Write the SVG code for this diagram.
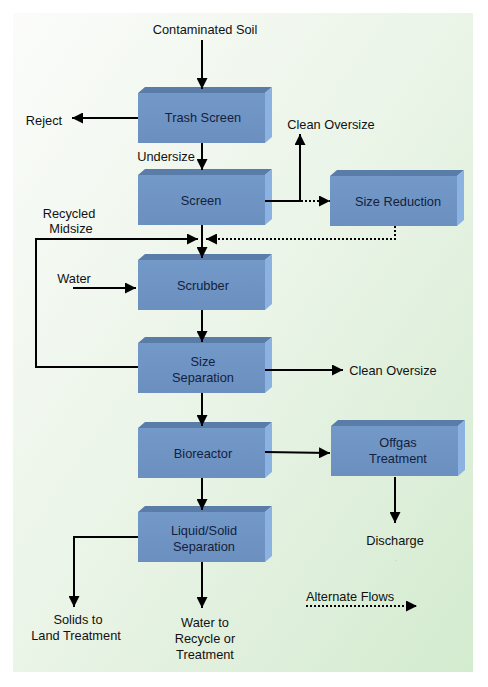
<svg xmlns="http://www.w3.org/2000/svg" xmlns:xlink="http://www.w3.org/1999/xlink" width="488" height="687" viewBox="0 0 488 687">
<defs>
<linearGradient id="bg" x1="0" y1="0" x2="1" y2="1">
<stop offset="0" stop-color="#fbfcfa"/>
<stop offset="0.5" stop-color="#eaf4e7"/>
<stop offset="1" stop-color="#d3ebcf"/>
</linearGradient>
<linearGradient id="front" x1="0" y1="0" x2="0" y2="1">
<stop offset="0" stop-color="#7399c8"/>
<stop offset="1" stop-color="#6b90bf"/>
</linearGradient>
<g id="box">
<rect x="0" y="0" width="127" height="50" fill="url(#front)"/>
<polygon points="0,0 7,-6 134,-6 127,0" fill="#5a7ca9"/>
<polygon points="127,0 134,-6 134,44 127,50" fill="#8cb2e2"/>
</g>
<marker id="ah" viewBox="0 0 10 10" refX="10" refY="5" markerWidth="11" markerHeight="11" orient="auto" markerUnits="userSpaceOnUse">
<path d="M0,0 L10,5 L0,10 z" fill="#000"/>
</marker>
</defs>
<style>
text{font-family:"Liberation Sans",Arial,sans-serif;font-size:12.8px;text-anchor:middle}
.in{fill:#14213d}
.out{fill:#111}
.c{fill:none;stroke:#000;stroke-width:2}
.d{fill:none;stroke:#000;stroke-width:2;stroke-dasharray:2 2}
</style>
<rect x="0" y="0" width="488" height="687" fill="#fff"/>
<rect x="13" y="13" width="460" height="659" fill="url(#bg)"/>

<g id="n-trash"><use xlink:href="#box" x="138" y="93"/><text class="in" x="203" y="122">Trash Screen</text></g>
<g id="n-screen"><use xlink:href="#box" x="138" y="175"/><text class="in" x="201" y="205">Screen</text></g>
<g id="n-sizered"><use xlink:href="#box" x="330" y="176"/><text class="in" x="398" y="206">Size Reduction</text></g>
<g id="n-scrubber"><use xlink:href="#box" x="138" y="260"/><text class="in" x="203" y="290">Scrubber</text></g>
<g id="n-sizesep"><use xlink:href="#box" x="138" y="343"/><text class="in" x="203" y="366">Size</text><text class="in" x="203" y="382">Separation</text></g>
<g id="n-bio"><use xlink:href="#box" x="138" y="428"/><text class="in" x="203" y="458">Bioreactor</text></g>
<g id="n-offgas"><use xlink:href="#box" x="331" y="426"/><text class="in" x="398" y="447">Offgas</text><text class="in" x="398" y="463">Treatment</text></g>
<g id="n-ls"><use xlink:href="#box" x="138" y="512"/><text class="in" x="204" y="535">Liquid/Solid</text><text class="in" x="204" y="551">Separation</text></g>

<g id="labels">
<text class="out" x="205" y="34">Contaminated Soil</text>
<text class="out" x="44" y="125">Reject</text>
<text class="out" x="331" y="129">Clean Oversize</text>
<text class="out" x="166" y="161">Undersize</text>
<text class="out" x="69" y="218">Recycled</text>
<text class="out" x="71" y="233">Midsize</text>
<text class="out" x="74" y="283">Water</text>
<text class="out" x="393" y="375">Clean Oversize</text>
<text class="out" x="395" y="545">Discharge</text>
<text class="out" x="396" y="561" style="font-size:6px;fill:#999">.</text>
<text class="out" x="350" y="601">Alternate Flows</text>
<text class="out" x="78" y="624">Solids to</text>
<text class="out" x="76" y="640">Land Treatment</text>
<text class="out" x="205" y="627">Water to</text>
<text class="out" x="205" y="643">Recycle or</text>
<text class="out" x="205" y="659">Treatment</text>
</g>

<g id="connectors">
<path class="c" d="M202,40 V89" marker-end="url(#ah)"/>
<path class="c" d="M138,118 H72" marker-end="url(#ah)"/>
<path class="c" d="M202,143 V170" marker-end="url(#ah)"/>
<path class="c" d="M265,201 H300 V134" marker-end="url(#ah)"/>
<path class="d" d="M301,201 H330" marker-end="url(#ah)"/>
<path class="d" d="M395,226 V239 H206" marker-end="url(#ah)"/>
<path class="c" d="M138,367 H36 V239 H198" marker-end="url(#ah)"/>
<path class="c" d="M202,225 V258" marker-end="url(#ah)"/>
<path class="c" d="M73,288 H136" marker-end="url(#ah)"/>
<path class="c" d="M202,310 V342" marker-end="url(#ah)"/>
<path class="c" d="M265,370 H343" marker-end="url(#ah)"/>
<path class="c" d="M202,393 V426" marker-end="url(#ah)"/>
<path class="c" d="M265,452 L330,453" marker-end="url(#ah)"/>
<path class="c" d="M202,478 V510" marker-end="url(#ah)"/>
<path class="c" d="M395,477 V523" marker-end="url(#ah)"/>
<path class="c" d="M138,537 H74 V607" marker-end="url(#ah)"/>
<path class="c" d="M202,562 V608" marker-end="url(#ah)"/>
<path class="d" d="M306,606 H417" marker-end="url(#ah)"/>
</g>
</svg>
